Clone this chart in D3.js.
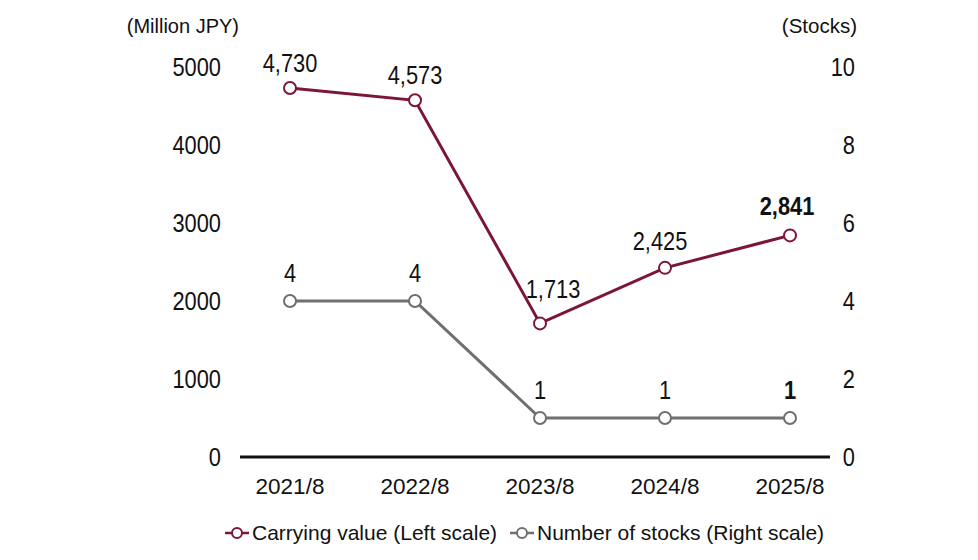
<!DOCTYPE html>
<html>
<head>
<meta charset="utf-8">
<script src="https://cdn.jsdelivr.net/npm/d3@7"></script>
<style>
  body { margin: 0; background: #fff; }
  text { font-family: "Liberation Sans", Arial, sans-serif; fill: #111; }
</style>
</head>
<body>
<div id="chart"></div>
<script>
const years = ["2021/8", "2022/8", "2023/8", "2024/8", "2025/8"];
const carrying = [4730, 4573, 1713, 2425, 2841];
const stocks = [4, 4, 1, 1, 1];
const leftTicks = [0, 1000, 2000, 3000, 4000, 5000];
const rightTicks = [0, 2, 4, 6, 8, 10];

const W = 978, H = 560;
const red = "#7b1638", gray = "#6f6f6f";
const narrow = 0.84;

const svg = d3.select("#chart").append("svg")
  .attr("width", W).attr("height", H);

const x = d3.scalePoint().domain(years).range([290, 790]);
const yL = d3.scaleLinear().domain([0, 5000]).range([457, 67]);
const yR = d3.scaleLinear().domain([0, 10]).range([457, 67]);

// condensed number text
function numText(sel, fx, fy, anchor) {
  return sel.append("text")
    .attr("transform", d => `translate(${fx(d)},${fy(d)}) scale(${narrow},1)`)
    .attr("text-anchor", anchor).attr("font-size", 26);
}

// baseline
svg.append("line")
  .attr("x1", 240).attr("x2", 830)
  .attr("y1", yL(0)).attr("y2", yL(0))
  .attr("stroke", "#111").attr("stroke-width", 3);

// left axis labels
numText(svg.selectAll(".lt").data(leftTicks).enter(), () => 221, d => yL(d) + 9, "end")
  .text(d => d);

// right axis labels
numText(svg.selectAll(".rt").data(rightTicks).enter(), () => 855, d => yR(d) + 9, "end")
  .text(d => d);

// x labels
svg.selectAll(".xt").data(years).enter().append("text")
  .attr("x", d => x(d)).attr("y", 494)
  .attr("text-anchor", "middle").attr("font-size", 22.5)
  .text(d => d);

svg.append("text").attr("x", 239).attr("y", 33)
  .attr("text-anchor", "end").attr("font-size", 20).text("(Million JPY)");
svg.append("text").attr("x", 857).attr("y", 33)
  .attr("text-anchor", "end").attr("font-size", 20.5).text("(Stocks)");

function series(vals, y, color, labelDx, labelDy) {
  const pts = vals.map((v, i) => ({ k: years[i], v, i }));
  svg.append("path")
    .attr("d", d3.line().x(d => x(d.k)).y(d => y(d.v))(pts))
    .attr("fill", "none").attr("stroke", color).attr("stroke-width", 3);
  svg.selectAll(null).data(pts).enter().append("circle")
    .attr("cx", d => x(d.k)).attr("cy", d => y(d.v)).attr("r", 6)
    .attr("fill", "#fff").attr("stroke", color).attr("stroke-width", 2);
  numText(svg.selectAll(null).data(pts).enter(),
      d => x(d.k) + labelDx[d.i], d => y(d.v) - labelDy[d.i], "middle")
    .attr("font-weight", d => d.i === vals.length - 1 ? "bold" : "normal")
    .text(d => d3.format(",")(d.v));
}

series(stocks, yR, gray, [0, 0, 0, 0, 0], [19, 19, 19, 19, 19]);
series(carrying, yL, red, [0, 0, 13, -5, -3], [16, 16, 25, 18, 20]);

// legend
const legend = [
  { label: "Carrying value (Left scale)", color: red, x: 225 },
  { label: "Number of stocks (Right scale)", color: gray, x: 510 }
];
const lg = svg.selectAll(".lg").data(legend).enter().append("g")
  .attr("transform", d => `translate(${d.x},533)`);
lg.append("line").attr("x1", 0).attr("x2", 24)
  .attr("stroke", d => d.color).attr("stroke-width", 2.5);
lg.append("circle").attr("cx", 12).attr("r", 5)
  .attr("fill", "#fff").attr("stroke", d => d.color).attr("stroke-width", 2);
lg.append("text").attr("x", 27).attr("y", 7).attr("font-size", 21)
  .text(d => d.label);
</script>
</body>
</html>
